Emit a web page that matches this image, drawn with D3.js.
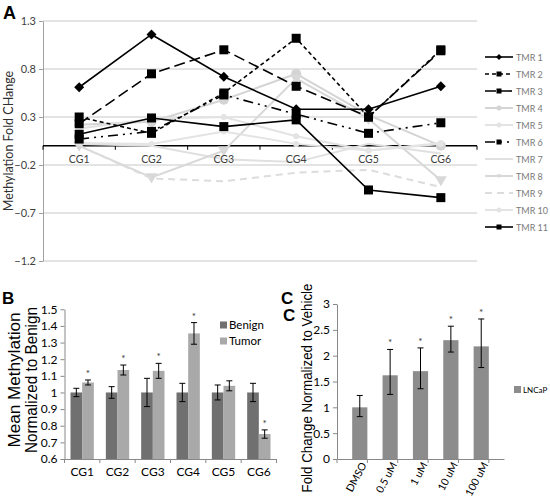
<!DOCTYPE html>
<html><head><meta charset="utf-8">
<script src="https://cdn.jsdelivr.net/npm/d3@7"></script>
<style>
html,body{margin:0;padding:0;background:#fff;}
svg{display:block;}
</style></head>
<body>
<svg id="c" width="550" height="498"></svg>
<script>
// ---------- DATA ----------
const cgCats = ["CG1","CG2","CG3","CG4","CG5","CG6"];
const tmrNames = ["TMR 1","TMR 2","TMR 3","TMR 4","TMR 5","TMR 6","TMR 7","TMR 8","TMR 9","TMR 10","TMR 11"];
const tmr1  = [0.61, 1.16, 0.72, 0.38, 0.38, 0.62];
const tmr2  = [0.30, 0.13, 0.55, 1.12, 0.30, 1.00];
const tmr3  = [0.23, 0.75, 1.00, 0.62, 0.30, 0.99];
const tmr4  = [0.22, 0.25, 0.48, 0.75, 0.32, 0.00];
const tmr5  = [0.18, 0.28, 0.30, 0.10, -0.05, 0.02];
const tmr6  = [0.07, 0.15, 0.53, 0.33, 0.13, 0.24];
const tmr7  = [0.02, 0.00, -0.14, -0.17, 0.02, -0.08];
const tmr8  = [0.00, -0.33, -0.05, 0.70, 0.28, -0.36];
const tmr9  = [0.00, -0.34, -0.37, -0.28, -0.25, -0.43];
const tmr10 = [0.03, 0.02, 0.15, 0.02, -0.05, 0.03];
const tmr11 = [0.12, 0.29, 0.20, 0.27, -0.46, -0.54];
const yTicksA = [1.3, 0.8, 0.3, -0.2, -0.7, -1.2];

const benignMean = [1.00, 1.00, 1.00, 1.00, 1.00, 1.00];
const benignErr  = [0.025, 0.035, 0.085, 0.055, 0.045, 0.055];
const tumorMean  = [1.06, 1.135, 1.13, 1.355, 1.04, 0.75];
const tumorErr   = [0.015, 0.03, 0.045, 0.065, 0.03, 0.025];
const tumorSig   = [true, true, true, true, false, true];
const yTicksB = [0.6,0.7,0.8,0.9,1.0,1.1,1.2,1.3,1.4,1.5];

const doseCats = ["DMSO","0.5 uM","1 uM","10 uM","100 uM"];
const lncapMean = [1.00, 1.62, 1.70, 2.30, 2.18];
const lncapLow  = [0.82, 1.25, 1.36, 2.07, 1.77];
const lncapHigh = [1.23, 2.12, 2.15, 2.57, 2.71];
const lncapSig  = [false, true, true, true, true];
const yTicksC = [0,0.5,1,1.5,2,2.5,3];

// ---------- CHART ----------
const svg = d3.select("#c");
const LF = "Lato, 'Open Sans', sans-serif";
const AF = "'Liberation Sans', Arial, sans-serif";

// ===== Panel A =====
const xA = d3.scaleBand().domain(cgCats).range([43, 477]);
const yA = d3.scaleLinear().domain([-1.2, 1.3]).range([261, 21]);
const gA = svg.append("g");

gA.selectAll("line.grid").data(yTicksA).enter().append("line")
  .attr("x1", 43).attr("x2", 477).attr("y1", d=>yA(d)).attr("y2", d=>yA(d))
  .attr("stroke", "#c8c8c8").attr("stroke-width", 1);
const axAy = gA.append("g").attr("transform","translate(43,0)")
  .call(d3.axisLeft(yA).tickValues(yTicksA).tickSize(4).tickSizeOuter(0).tickFormat(d3.format("")));
axAy.select(".domain").attr("stroke","#a0a0a0");
axAy.selectAll(".tick line").attr("stroke","#a0a0a0");
axAy.selectAll("text").attr("font-family", LF).attr("font-size", 11).attr("fill","#404040");

const series = [
  {name:"TMR 1", v:tmr1, color:"#000", dash:null, w:1.6, marker:"diamond", ms:5},
  {name:"TMR 2", v:tmr2, color:"#000", dash:"4,3", w:1.6, marker:"square", ms:9},
  {name:"TMR 3", v:tmr3, color:"#000", dash:"11,5", w:1.6, marker:"square", ms:9},
  {name:"TMR 4", v:tmr4, color:"#d4d4d4", dash:null, w:2, marker:"circle", ms:5},
  {name:"TMR 5", v:tmr5, color:"#e3e3e3", dash:null, w:2, marker:"circle", ms:3},
  {name:"TMR 6", v:tmr6, color:"#000", dash:"10,5,2,5,2,5", w:1.6, marker:"square", ms:9},
  {name:"TMR 7", v:tmr7, color:"#e0e0e0", dash:null, w:2, marker:null, ms:0},
  {name:"TMR 8", v:tmr8, color:"#d8d8d8", dash:null, w:2, marker:"triangle", ms:6},
  {name:"TMR 9", v:tmr9, color:"#dcdcdc", dash:"7,5", w:2, marker:null, ms:0},
  {name:"TMR 10", v:tmr10, color:"#e4e4e4", dash:null, w:2, marker:"circle", ms:3},
  {name:"TMR 11", v:tmr11, color:"#000", dash:null, w:1.6, marker:"square", ms:9}
];
const drawOrder = [3,4,6,7,8,9,10,5,2,1,0];
const lineA = d3.line().x((d,i)=>xA(cgCats[i]) + xA.bandwidth()/2).y(d=>yA(d));

function drawMarker(g, type, x, y, s, color){
  if(!type) return;
  if(type==="square"){
    g.append("rect").attr("x", x-s/2).attr("y", y-s/2).attr("width", s).attr("height", s).attr("fill", color);
  } else if(type==="diamond"){
    g.append("path").attr("d", `M${x},${y-s}L${x+s},${y}L${x},${y+s}L${x-s},${y}Z`).attr("fill", color);
  } else if(type==="circle"){
    g.append("circle").attr("cx", x).attr("cy", y).attr("r", s).attr("fill", color);
  } else if(type==="triangle"){
    g.append("path").attr("d", `M${x},${y+s}L${x+s},${y-s*0.7}L${x-s},${y-s*0.7}Z`).attr("fill", color);
  }
}

// zero axis line
const zeroLine = gA.append("g");
zeroLine.append("line").attr("x1",43).attr("x2",477).attr("y1",yA(0)).attr("y2",yA(0))
  .attr("stroke","#000").attr("stroke-width",1.6);
zeroLine.selectAll("line.t").data(d3.range(cgCats.length+1)).enter().append("line")
  .attr("x1", i=>43 + i*xA.bandwidth()).attr("x2", i=>43 + i*xA.bandwidth())
  .attr("y1", yA(0)).attr("y2", yA(0)+4).attr("stroke","#000").attr("stroke-width",1);

drawOrder.forEach(k=>{
  const s = series[k];
  const g = gA.append("g");
  g.append("path").datum(s.v).attr("d", lineA).attr("fill","none")
    .attr("stroke", s.color).attr("stroke-width", s.w)
    .attr("stroke-dasharray", s.dash);
  s.v.forEach((v,i)=> drawMarker(g, s.marker, xA(cgCats[i]) + xA.bandwidth()/2, yA(v), s.ms, s.color));
});

gA.selectAll("text.cat").data(cgCats).enter().append("text")
  .attr("x", d=>xA(d)+xA.bandwidth()/2).attr("y", yA(0)+17)
  .attr("text-anchor","middle").attr("font-family", LF).attr("font-size", 10.5).attr("fill","#404040")
  .text(d=>d);

// legend A
const legA = gA.append("g");
series.forEach((s,i)=>{
  const y = 57 + i*17;
  legA.append("line").attr("x1",485).attr("x2",513).attr("y1",y).attr("y2",y)
    .attr("stroke", s.color).attr("stroke-width", s.w).attr("stroke-dasharray", s.dash);
  drawMarker(legA, s.marker, 499, y, s.marker==="square"?5:(s.marker==="diamond"?3:2.5), s.color);
  legA.append("text").attr("x",516).attr("y",y+3.5).attr("font-family", LF).attr("font-size",9)
    .attr("fill","#7a7a7a").text(s.name);
});

gA.append("text").attr("transform","translate(13,141) rotate(-90)").attr("text-anchor","middle")
  .attr("font-family", LF).attr("font-size", 12.5).attr("fill","#303030").text("Methylation Fold CHange");
svg.append("text").attr("x",3).attr("y",19).attr("font-family", AF).attr("font-weight","bold")
  .attr("font-size",18).attr("fill","#000").text("A");

// ===== Panel B =====
const xB = d3.scaleBand().domain(cgCats).range([64.5, 276.5]);
const gw = xB.bandwidth()*0.66;
const x1B = d3.scaleBand().domain(["Benign","Tumor"]).range([(xB.bandwidth()-gw)/2, (xB.bandwidth()+gw)/2]);
const yB = d3.scaleLinear().domain([0.6, 1.5]).range([459, 309.3]);
const gB = svg.append("g");
const colB = {Benign:"#707070", Tumor:"#a9a9a9"};

const dataB = [];
cgCats.forEach((c,i)=>{
  dataB.push({c, k:"Benign", v:benignMean[i], e:benignErr[i], sig:false});
  dataB.push({c, k:"Tumor", v:tumorMean[i], e:tumorErr[i], sig:tumorSig[i]});
});
gB.selectAll("rect.bar").data(dataB).enter().append("rect")
  .attr("x", d=>xB(d.c)+x1B(d.k)).attr("width", x1B.bandwidth())
  .attr("y", d=>yB(d.v)).attr("height", d=>yB(0.6)-yB(d.v)).attr("fill", d=>colB[d.k]);
const ebB = gB.selectAll("g.eb").data(dataB).enter().append("g");
ebB.each(function(d){
  const g = d3.select(this);
  const cx = xB(d.c)+x1B(d.k)+x1B.bandwidth()/2;
  g.append("line").attr("x1",cx).attr("x2",cx).attr("y1",yB(d.v+d.e)).attr("y2",yB(d.v-d.e)).attr("stroke","#000").attr("stroke-width",1);
  [d.v+d.e, d.v-d.e].forEach(v=> g.append("line").attr("x1",cx-3).attr("x2",cx+3).attr("y1",yB(v)).attr("y2",yB(v)).attr("stroke","#000").attr("stroke-width",1));
  if(d.sig) g.append("text").attr("x",cx).attr("y",yB(d.v+d.e)-3).attr("text-anchor","middle")
    .attr("font-family", LF).attr("font-size",10).attr("fill","#333").text("*");
});
const axBy = gB.append("g").attr("transform","translate(64.5,0)")
  .call(d3.axisLeft(yB).tickValues(yTicksB).tickSize(4).tickSizeOuter(0).tickFormat(d=> d===1?"1":d3.format(".1f")(d)));
const axBx = gB.append("g").attr("transform",`translate(0,${yB(0.6)})`)
  .call(d3.axisBottom(xB).tickSize(0).tickSizeOuter(0));
[axBy, axBx].forEach(a=>{ a.select(".domain").attr("stroke","#888"); a.selectAll(".tick line").attr("stroke","#888"); });
axBy.selectAll("text").attr("font-family", LF).attr("font-size", 12).attr("fill","#000");
axBx.selectAll("text").attr("font-family", LF).attr("font-size", 12).attr("fill","#000").attr("dy","1.2em");
gB.selectAll("line.xt").data(d3.range(cgCats.length+1)).enter().append("line")
  .attr("x1", i=>64.5+i*xB.bandwidth()).attr("x2", i=>64.5+i*xB.bandwidth())
  .attr("y1", yB(0.6)).attr("y2", yB(0.6)+4).attr("stroke","#888");

const legB = gB.append("g");
["Benign","Tumor"].forEach((k,i)=>{
  const y = 325 + i*16;
  legB.append("rect").attr("x",220).attr("y",y-3.5).attr("width",7).attr("height",7).attr("fill",colB[k]);
  legB.append("text").attr("x",229).attr("y",y+4).attr("font-family", LF).attr("font-size",11.5).attr("fill","#000").text(k);
});
gB.append("text").attr("transform","translate(20,380) rotate(-90)").attr("text-anchor","middle")
  .attr("font-family", AF).attr("font-size",16).attr("fill","#000")
  .attr("textLength",135).attr("lengthAdjust","spacingAndGlyphs").text("Mean Methylation");
gB.append("text").attr("transform","translate(37,380) rotate(-90)").attr("text-anchor","middle")
  .attr("font-family", AF).attr("font-size",16).attr("fill","#000")
  .attr("textLength",146).attr("lengthAdjust","spacingAndGlyphs").text("Normalized to Benign");
svg.append("text").attr("x",2).attr("y",304).attr("font-family", AF).attr("font-weight","bold")
  .attr("font-size",17).attr("fill","#000").text("B");

// ===== Panel C =====
const xC = d3.scaleBand().domain(doseCats).range([337, 504]).padding(0.5);
const yC = d3.scaleLinear().domain([0, 3]).range([459, 304]);
const gC = svg.append("g");
gC.selectAll("rect.bar").data(doseCats).enter().append("rect")
  .attr("x", d=>xC(d)).attr("width", xC.bandwidth())
  .attr("y", (d,i)=>yC(lncapMean[i])).attr("height", (d,i)=>yC(0)-yC(lncapMean[i])).attr("fill","#8c8c8c");
doseCats.forEach((d,i)=>{
  const cx = xC(d)+xC.bandwidth()/2;
  gC.append("line").attr("x1",cx).attr("x2",cx).attr("y1",yC(lncapHigh[i])).attr("y2",yC(lncapLow[i])).attr("stroke","#000").attr("stroke-width",1);
  [lncapHigh[i], lncapLow[i]].forEach(v=> gC.append("line").attr("x1",cx-3).attr("x2",cx+3).attr("y1",yC(v)).attr("y2",yC(v)).attr("stroke","#000"));
  if(lncapSig[i]) gC.append("text").attr("x",cx).attr("y",yC(lncapHigh[i])-3).attr("text-anchor","middle")
    .attr("font-family", LF).attr("font-size",10).attr("fill","#333").text("*");
});
const axCy = gC.append("g").attr("transform","translate(337,0)")
  .call(d3.axisLeft(yC).tickValues(yTicksC).tickSize(4).tickSizeOuter(0).tickFormat(d3.format("")));
const axCx = gC.append("g").attr("transform",`translate(0,${yC(0)})`)
  .call(d3.axisBottom(xC).tickSize(0).tickSizeOuter(0));
[axCy, axCx].forEach(a=>{ a.select(".domain").attr("stroke","#888"); a.selectAll(".tick line").attr("stroke","#888"); });
axCy.selectAll("text").attr("font-family", LF).attr("font-size", 12).attr("fill","#000");
axCx.selectAll("text").attr("font-family", LF).attr("font-size", 10.5).attr("fill","#000")
  .attr("text-anchor","end").attr("transform","translate(4,4) rotate(-62)").attr("dy","0.35em").attr("y",0);
const stepC = xC.step();
gC.selectAll("line.xt").data(d3.range(doseCats.length+1)).enter().append("line")
  .attr("x1", i=>337+i*stepC).attr("x2", i=>337+i*stepC)
  .attr("y1", yC(0)).attr("y2", yC(0)+4).attr("stroke","#888");
gC.append("rect").attr("x",514).attr("y",386).attr("width",7).attr("height",7).attr("fill","#8c8c8c");
gC.append("text").attr("x",523).attr("y",393).attr("font-family", LF).attr("font-size",8).attr("fill","#000")
  .text("LNCaP");
gC.append("text").attr("transform","translate(312,388) rotate(-90)").attr("text-anchor","middle")
  .attr("font-family", AF).attr("font-size",15).attr("fill","#000")
  .attr("textLength",209).attr("lengthAdjust","spacingAndGlyphs").text("Fold Change Normalized to Vehicle");
svg.append("text").attr("x",281).attr("y",304).attr("font-family", AF).attr("font-weight","bold")
  .attr("font-size",17).attr("fill","#000").text("C");
svg.append("text").attr("x",283).attr("y",321).attr("font-family", AF).attr("font-weight","bold")
  .attr("font-size",17).attr("fill","#000").text("C");
</script>
</body></html>
